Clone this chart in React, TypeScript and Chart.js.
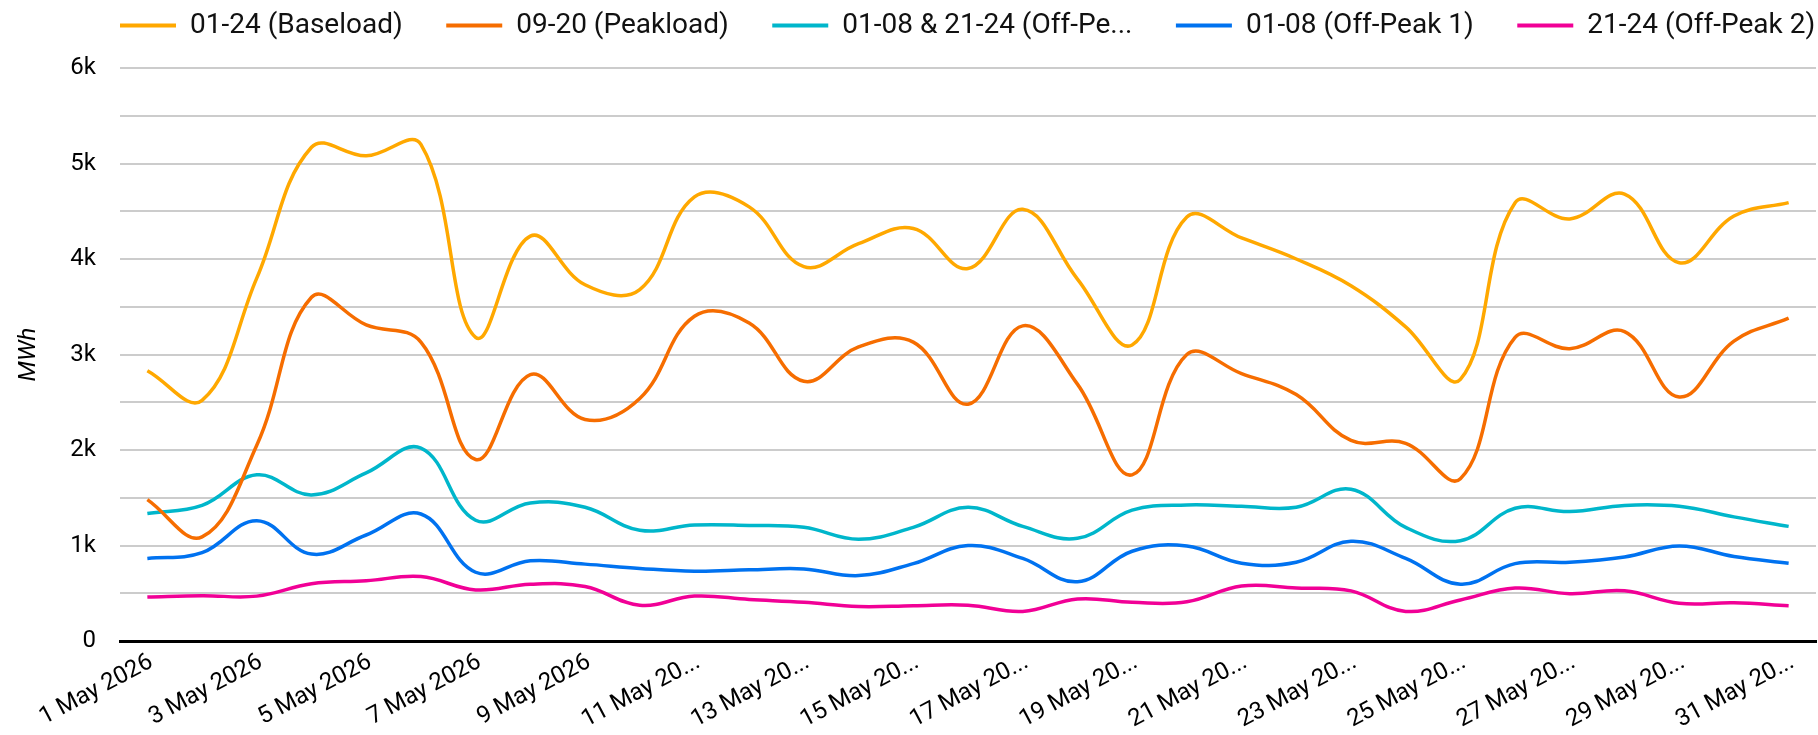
import React, { useEffect, useRef } from "react";
import { Chart, registerables } from "chart.js";

Chart.register(...registerables);

const categories = [
  "1 May 2026", "2 May 2026", "3 May 2026", "4 May 2026", "5 May 2026", "6 May 2026",
  "7 May 2026", "8 May 2026", "9 May 2026", "10 May 2026", "11 May 2026", "12 May 2026",
  "13 May 2026", "14 May 2026", "15 May 2026", "16 May 2026", "17 May 2026", "18 May 2026",
  "19 May 2026", "20 May 2026", "21 May 2026", "22 May 2026", "23 May 2026", "24 May 2026",
  "25 May 2026", "26 May 2026", "27 May 2026", "28 May 2026", "29 May 2026", "30 May 2026",
  "31 May 2026",
];

const baseload = [
  2830, 2520, 3800, 5170, 5080, 5200, 3180, 4240, 3730, 3680, 4650,
  4546, 3920, 4160, 4320, 3900, 4520, 3790, 3100, 4440, 4220,
  4000, 3720, 3290, 2740, 4590, 4420, 4680, 3960, 4450, 4590,
];
const peakload = [
  1480, 1090, 2050, 3600, 3310, 3130, 1900, 2790, 2320, 2540, 3400,
  3330, 2720, 3080, 3130, 2480, 3300, 2690, 1740, 3000, 2800,
  2580, 2100, 2070, 1700, 3180, 3060, 3240, 2555, 3140, 3380,
];
const offPeak = [
  1335, 1420, 1740, 1530, 1760, 2020, 1265, 1445, 1400, 1160, 1215,
  1210, 1190, 1065, 1190, 1400, 1200, 1075, 1370, 1425, 1410,
  1400, 1590, 1190, 1050, 1390, 1355, 1420, 1410, 1300, 1200,
];
const offPeak1 = [
  865, 925, 1260, 910, 1110, 1330, 720, 840, 805, 760, 730,
  745, 755, 685, 810, 1000, 865, 620, 940, 995, 815,
  825, 1045, 865, 595, 810, 825, 880, 995, 885, 815,
];
const offPeak2 = [
  460, 475, 470, 600, 630, 675, 535, 595, 570, 375, 470,
  435, 405, 360, 370, 375, 310, 440, 405, 410, 575,
  555, 525, 310, 430, 555, 495, 525, 395, 400, 370,
];

const seriesLabels = [
  "01-24 (Baseload)",
  "09-20 (Peakload)",
  "01-08 & 21-24 (Off-Peak)",
  "01-08 (Off-Peak 1)",
  "21-24 (Off-Peak 2)",
];
const seriesColors = ["#ffa800", "#f66d00", "#00b6cb", "#0072f0", "#f10096"];
const yTicksK = ["0", "1k", "2k", "3k", "4k", "5k", "6k"];

const FONT = "Roboto";
const LEGEND_FONT = 28;
const LEGEND_GAP = 43.5;
const LEGEND_CENTER_Y = 25.5;
const CHART_TOP = 68;

function truncate(s: string, n: number) {
  return s.length > n ? s.slice(0, n) + "..." : s;
}

const legendTweak = {
  id: "legendTweak",
  beforeLayout(chart: any) {
    const lg = chart.legend;
    if (lg && !lg._tweaked) {
      const orig = lg.fit;
      lg.fit = function () {
        const mw = this.maxWidth;
        this.maxWidth = mw + 600;
        orig.call(this);
        this.maxWidth = mw;
        this.width = mw;
        this.height = CHART_TOP;
      };
      lg._tweaked = true;
    }
  },
  afterLayout(chart: any) {
    const lg = chart.legend;
    if (!lg) return;
    const pad = lg.options.labels.padding;
    lg.left = chart.chartArea.left - pad;
    lg.right = chart.width + 400;
    lg.top = LEGEND_CENTER_Y - LEGEND_FONT / 2 - pad;
    lg.bottom = chart.chartArea.top;
  },
};

export default function App() {
  const ref = useRef<HTMLCanvasElement | null>(null);

  useEffect(() => {
    document.body.style.margin = "0";
    const canvas = ref.current;
    if (!canvas) return;
    const allSeries = [baseload, peakload, offPeak, offPeak1, offPeak2];
    const chart = new Chart(canvas, {
      type: "line",
      data: {
        labels: categories,
        datasets: allSeries.map((d, i) => ({
          label: seriesLabels[i],
          data: d,
          borderColor: seriesColors[i],
          backgroundColor: seriesColors[i],
          borderWidth: 3.5,
          pointRadius: 0,
          pointHoverRadius: 0,
          tension: 0.4,
          fill: false,
        })),
      },
      options: {
        animation: false,
        responsive: false,
        maintainAspectRatio: false,
        layout: { padding: { top: 0, right: 2, bottom: 0, left: 0 } },
        plugins: {
          tooltip: { enabled: false },
          legend: {
            display: true,
            position: "top",
            align: "start",
            fullSize: false,
            labels: {
              boxWidth: 56,
              boxHeight: 4,
              padding: LEGEND_GAP,
              color: "#111",
              font: { family: FONT, size: LEGEND_FONT },
              generateLabels: (c: any) => {
                const items = Chart.defaults.plugins.legend.labels.generateLabels(c);
                return items.map((it: any, i: number) => ({
                  ...it,
                  text: truncate(it.text, 21),
                  lineWidth: 0,
                  fillStyle: seriesColors[i],
                  strokeStyle: seriesColors[i],
                }));
              },
            },
          },
        },
        scales: {
          x: {
            type: "category",
            offset: true,
            grid: { display: false, drawTicks: false },
            border: { display: true, color: "#000", width: 3 },
            ticks: {
              autoSkip: false,
              minRotation: 28,
              maxRotation: 28,
              padding: 7,
              labelOffset: 4,
              color: "#000",
              font: { family: FONT, size: 24 },
              callback: function (this: any, val: any, index: number) {
                if (index % 2 !== 0) return "";
                const s = this.getLabelForValue(val);
                return s.length > 10 ? s.slice(0, 9) + "..." : s;
              },
            },
            afterFit: (scale: any) => {
              scale.height = 94;
            },
          },
          y: {
            min: 0,
            max: 6000,
            grid: { color: "#cccccc", lineWidth: 2, drawTicks: false },
            border: { display: false },
            ticks: {
              stepSize: 500,
              padding: 24,
              color: "#000",
              font: { family: FONT, size: 24 },
              callback: (v: any) => {
                const n = Number(v);
                return n % 1000 === 0 ? yTicksK[n / 1000] : "";
              },
            },
            title: {
              display: true,
              text: "MWh",
              color: "#000",
              padding: { top: 15, bottom: 0 },
              font: { family: FONT, size: 24, style: "italic" },
            },
            afterFit: (scale: any) => {
              scale.width = 120;
            },
          },
        },
      },
      plugins: [legendTweak],
    } as any);
    return () => chart.destroy();
  }, []);

  return (
    <div style={{ width: 1818, height: 735 }}>
      <canvas ref={ref} width={1818} height={735} style={{ display: "block", width: 1818, height: 735 }} />
    </div>
  );
}
